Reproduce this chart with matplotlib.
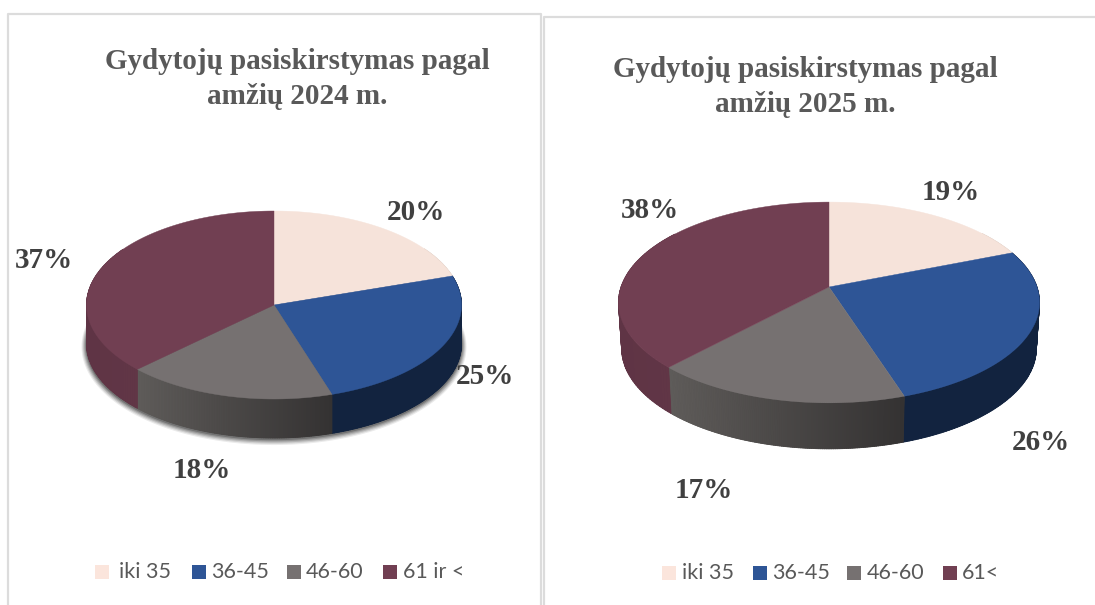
import numpy as np
import matplotlib
matplotlib.use("Agg")
import matplotlib.pyplot as plt
from matplotlib.collections import PolyCollection
from matplotlib.colors import to_rgb

# --- 1) Data ---
AGE_2024 = ["iki 35", "36-45", "46-60", "61 ir <"]
AGE_2025 = ["iki 35", "36-45", "46-60", "61<"]
SHARE_2024 = [20, 25, 18, 37]
SHARE_2025 = [19, 26, 17, 38]
TITLE_2024 = "Gydytojų pasiskirstymas pagal\namžių 2024 m."
TITLE_2025 = "Gydytojų pasiskirstymas pagal\namžių 2025 m."

# --- 2) Style ---
W, H = 1095, 605
TOP_COLORS = ["#f6e3da", "#2e5596", "#767171", "#713f52"]
SIDE_LEFT = ["#e0cfc6", "#12233f", "#5f5c5a", "#5f3445"]
SIDE_RIGHT = ["#e0cfc6", "#12233f", "#343232", "#613646"]
LEGEND_COLORS = ["#fbe5dc", "#2e5596", "#767171", "#713f52"]
TEXT_GREY = "#595959"
LABEL_GREY = "#404040"
BORDER = "#dcdcdc"
SERIF = "Liberation Serif"
SANS = "Lato"


def project(theta, cx, cy, a, b, p):
    """Pie angle (clockwise from top) -> picture position, mild perspective via p."""
    u, v = np.sin(theta), np.cos(theta)
    w = 1 + p * v
    return cx + a * u / w, cy - b * v / w


def draw_pie(ax, values, cx, cy, a, b, p, depth, shrink=1.0, shadow=False):
    edges = np.cumsum([0] + list(values)) / sum(values) * 2 * np.pi

    if shadow:
        th = np.linspace(0, 2 * np.pi, 240)
        x, y = project(th, cx, cy + depth, a, b, p)
        for grow, alpha in zip([5, 4, 3, 2, 1], [0.08, 0.11, 0.14, 0.17, 0.22]):
            ax.fill(cx + (x - cx) * (a + grow) / a, cy + 1 + (y - cy) * (1 + grow / 110),
                    color="black", alpha=alpha, lw=0, zorder=1)

    # side wall, strip by strip so the shading can run left to right
    for i in range(len(values)):
        th = np.linspace(edges[i], edges[i + 1], 120)
        x0, y0 = project(th, cx, cy, a, b, p)
        x1, y1 = project(th, cx, cy + depth, a * shrink, b, p)
        seen = np.cos(th) < 0.6
        if seen.sum() < 2:
            continue
        idx = np.where(seen)[0]
        xs = x0[seen]
        c0, c1 = np.array(to_rgb(SIDE_LEFT[i])), np.array(to_rgb(SIDE_RIGHT[i]))
        # flat base first, keeps strip seams from showing
        ax.fill(np.r_[x0[idx], x1[idx][::-1]], np.r_[y0[idx], y1[idx][::-1]],
                color=(c0 + c1) / 2, lw=0, zorder=2)
        polys, cols = [], []
        for j, k in zip(idx[:-1], idx[1:]):
            polys.append([(x0[j], y0[j]), (x0[k], y0[k]), (x1[k], y1[k]), (x1[j], y1[j])])
            t = (x0[j] - xs.min()) / max(xs.max() - xs.min(), 1)
            cols.append(c0 + (c1 - c0) * t)
        ax.add_collection(PolyCollection(polys, facecolors=cols, edgecolors=cols,
                                         linewidths=0.6, zorder=2))

    # top surface
    for i in range(len(values)):
        th = np.linspace(edges[i], edges[i + 1], 200)
        x, y = project(th, cx, cy, a, b, p)
        ax.fill(np.r_[cx, x], np.r_[cy, y], color=TOP_COLORS[i], lw=0.3, zorder=3)


def draw_legend(ax, labels, box_x, text_x, y):
    for label, bx, tx, col in zip(labels, box_x, text_x, LEGEND_COLORS):
        ax.fill([bx, bx + 14, bx + 14, bx], [y - 7, y - 7, y + 7, y + 7], color=col, lw=0)
        ax.text(tx, y, label, color=TEXT_GREY, fontsize=15.5, family=SANS, ha="left", va="center")


def main():
    fig = plt.figure(figsize=(W / 100, H / 100), dpi=100)
    ax = fig.add_axes([0, 0, 1, 1])
    ax.set_xlim(0, W)
    ax.set_ylim(H, 0)
    ax.axis("off")

    # panel borders
    ax.plot([8, 8, 541, 541], [H, 14, 14, H], color=BORDER, lw=1.6)
    ax.plot([544, 544, W], [H, 17, 17], color=BORDER, lw=1.6)

    draw_pie(ax, SHARE_2024, 274, 305, 187.5, 94, 0.0, 39, shadow=True)
    draw_pie(ax, SHARE_2025, 829, 287, 208, 98, 0.154, 46, shrink=0.985)

    ax.text(297.5, 79, TITLE_2024, color=TEXT_GREY, fontsize=21, family=SERIF, weight="bold",
            ha="center", va="center", linespacing=1.4)
    ax.text(805, 87, TITLE_2025, color=TEXT_GREY, fontsize=21, family=SERIF, weight="bold",
            ha="center", va="center", linespacing=1.4)

    label_xy_2024 = [(416, 212), (485, 377), (202, 471), (44, 260)]
    label_xy_2025 = [(951, 193), (1041, 443), (704, 491), (650, 211)]
    for vals, places in [(SHARE_2024, label_xy_2024), (SHARE_2025, label_xy_2025)]:
        for v, (x, y) in zip(vals, places):
            ax.text(x, y, f"{v}%", color=LABEL_GREY, fontsize=21, family=SERIF, weight="bold",
                    ha="center", va="center", zorder=5)

    draw_legend(ax, AGE_2024, [95, 192, 287, 383], [119, 211, 306, 403], 572)
    draw_legend(ax, AGE_2025, [662, 753, 847, 943], [682, 772, 867, 962], 573)

    fig.savefig("out.png", dpi=100)


if __name__ == "__main__":
    main()
